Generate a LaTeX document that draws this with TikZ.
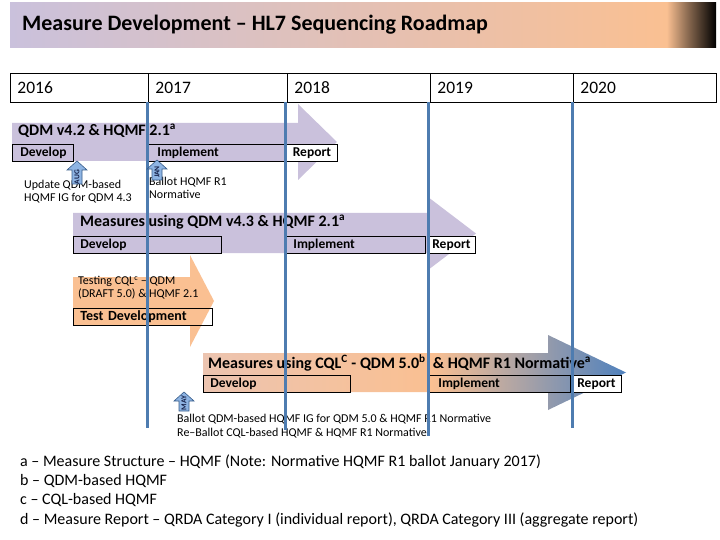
\documentclass[tikz,border=0pt]{standalone}
\usepackage{fontspec}
\setmainfont{Carlito}
\definecolor{lav}{RGB}{202,193,220}
\definecolor{peach}{RGB}{250,192,146}
\definecolor{pinkpeach}{RGB}{236,196,176}
\definecolor{arrblue}{RGB}{79,129,189}
\definecolor{vline}{RGB}{78,124,176}
\definecolor{smallfill}{RGB}{142,180,227}
\definecolor{smalldraw}{RGB}{56,93,138}
\definecolor{navy}{RGB}{20,30,70}
% TikZ maps the central 25bp--75bp of a shading onto the path
\pgfdeclarehorizontalshading{bannershade}{100bp}{color(0bp)=(lav); color(25bp)=(lav); color(71.5bp)=(peach); color(73bp)=(peach!55!black); color(75bp)=(black); color(100bp)=(black)}
\pgfdeclarehorizontalshading{arrowfour}{100bp}{color(0bp)=(pinkpeach); color(25bp)=(pinkpeach); color(52bp)=(peach); color(75bp)=(arrblue); color(100bp)=(arrblue)}
\tikzset{
  yearcell/.style={draw, line width=0.8pt, anchor=north west, minimum height=29pt, inner xsep=7pt, inner ysep=0pt, align=left, font=\fontsize{17.5}{17.5}\selectfont},
  phasebox/.style={draw, line width=0.8pt, anchor=north west, minimum height=17pt, inner xsep=7pt, inner ysep=0pt, align=left, font=\bfseries\fontsize{13.5}{13.5}\selectfont},
  reportbox/.style={phasebox, fill=white, align=center, inner xsep=2pt},
  arrowtitle/.style={anchor=west, inner sep=0pt, font=\bfseries\fontsize{16}{16}\selectfont},
  smalltext/.style={anchor=north west, inner sep=0pt, align=left, font=\fontsize{12}{13}\selectfont},
  notetext/.style={anchor=west, inner sep=0pt, font=\fontsize{16}{16}\selectfont},
  yearline/.style={draw=vline, line width=3pt},
  smallarrow/.style={fill=smallfill, draw=smalldraw, line width=0.6pt},
  monthtext/.style={rotate=90, inner sep=0pt, text=navy, font=\bfseries\fontsize{7.5}{7.5}\selectfont}
}
\begin{document}
\begin{tikzpicture}[x=1pt,y=-1pt]
\useasboundingbox (0,0) rectangle (720,540);
% title banner
\shade[shading=bannershade] (10,3) rectangle (716,48);
\node[anchor=west, inner sep=0pt, font=\bfseries\fontsize{22}{22}\selectfont] (title) at (22,25) {Measure Development -- HL7 Sequencing Roadmap};
% year table
\node[yearcell, minimum width=138pt, text width=124pt] (y2016) at (10,73) {2016};
\node[yearcell, minimum width=139pt, text width=125pt] (y2017) at (148,73) {2017};
\node[yearcell, minimum width=143pt, text width=129pt] (y2018) at (287,73) {2018};
\node[yearcell, minimum width=143pt, text width=129pt] (y2019) at (430,73) {2019};
\node[yearcell, minimum width=143pt, text width=129pt] (y2020) at (573,73) {2020};
% arrow 1
\fill[lav] (12,123) -- (298,123) -- (298,104) -- (337,142) -- (298,180) -- (298,161) -- (12,161) -- cycle;
\node[arrowtitle] (a1title) at (18,131) {QDM v4.2 \& HQMF 2.1\textsuperscript{a}};
\node[phasebox, minimum width=61pt, text width=45pt, inner xsep=8pt] (a1dev) at (12,144) {Develop};
\node[phasebox, minimum width=139pt, text width=119pt, inner xsep=10pt] (a1imp) at (147,144) {Implement};
\node[reportbox, minimum width=51pt, text width=47pt] (a1rep) at (286,144) {Report};
% arrow 2
\fill[lav] (73,213) -- (428,213) -- (428,197) -- (476,233.5) -- (428,270) -- (428,253) -- (73,253) -- cycle;
\node[arrowtitle] (a2title) at (80,222) {Measures using QDM v4.3 \& HQMF 2.1\textsuperscript{a}};
\node[phasebox, minimum width=148pt, text width=134pt] (a2dev) at (73,236) {Develop};
\node[phasebox, minimum width=141pt, text width=123pt, inner xsep=9pt] (a2imp) at (284,236) {Implement};
\node[reportbox, minimum width=48pt, text width=44pt] (a2rep) at (427,236) {Report};
% arrow 3
\fill[peach] (73,277) -- (190,277) -- (190,255) -- (214,301) -- (190,347) -- (190,325) -- (73,325) -- cycle;
\node[smalltext] (a3title) at (78,276) {Testing CQL\textsuperscript{c} -- QDM\\(DRAFT 5.0) \& HQMF 2.1};
\node[phasebox, minimum width=139pt, text width=125pt, font=\bfseries\fontsize{14}{14}\selectfont] (a3dev) at (73,308) {Test Development};
% arrow 4
\shade[shading=arrowfour] (203,353) -- (548,353) -- (548,335) -- (626,372.5) -- (548,410) -- (548,392) -- (203,392) -- cycle;
\node[arrowtitle] (a4title) at (208,363) {Measures using CQL\textsuperscript{C} - QDM 5.0\textsuperscript{b}\ \ \& HQMF R1 Normative\textsuperscript{a}};
\node[phasebox, minimum width=147pt, text width=133pt] (a4dev) at (203,375) {Develop};
\node[phasebox, minimum width=141pt, text width=123pt, inner xsep=9pt] (a4imp) at (429,375) {Implement};
\node[reportbox, minimum width=50pt, text width=46pt] (a4rep) at (571,375) {Report};
% annotations
\node[smalltext] (n1) at (24,180) {Update QDM-based\\HQMF IG for QDM 4.3};
\node[smalltext] (n2) at (149,177) {Ballot HQMF R1\\Normative};
\node[smalltext, font=\fontsize{12}{14}\selectfont] (n3) at (177,414) {Ballot QDM-based HQMF IG for QDM 5.0 \& HQMF R1 Normative\\Re--Ballot CQL-based HQMF \& HQMF R1 Normative};
% year lines
\coordinate (l1t) at (147,102); \coordinate (l1b) at (147,428);
\coordinate (l2t) at (285,102); \coordinate (l2b) at (285,430);
\coordinate (l3t) at (428,102); \coordinate (l3b) at (428,436);
\coordinate (l4t) at (572,102); \coordinate (l4b) at (572,428);
\draw[yearline] (l1t) -- (l1b);
\draw[yearline] (l2t) -- (l2b);
\draw[yearline] (l3t) -- (l3b);
\draw[yearline] (l4t) -- (l4b);
% month arrows
\draw[smallarrow] (77,161) -- (87,170) -- (82,170) -- (82,184) -- (72,184) -- (72,170) -- (67,170) -- cycle;
\node[monthtext] (aug) at (77,177) {AUG};
\draw[smallarrow] (157,160) -- (167,169) -- (162,169) -- (162,180) -- (152,180) -- (152,169) -- (147,169) -- cycle;
\node[monthtext] (jan) at (157,172) {JAN};
\draw[smallarrow] (184,392) -- (194,401) -- (189,401) -- (189,411) -- (179,411) -- (179,401) -- (174,401) -- cycle;
\node[monthtext] (may) at (184,403) {MAY};
% footnotes
\node[notetext] (fa) at (20,462) {a -- Measure Structure -- HQMF (Note: Normative HQMF R1 ballot January 2017)};
\node[notetext] (fb) at (20,481) {b -- QDM-based HQMF};
\node[notetext] (fc) at (20,500) {c -- CQL-based HQMF};
\node[notetext] (fd) at (20,520) {d -- Measure Report -- QRDA Category I (individual report), QRDA Category III (aggregate report)};
\end{tikzpicture}
\end{document}
